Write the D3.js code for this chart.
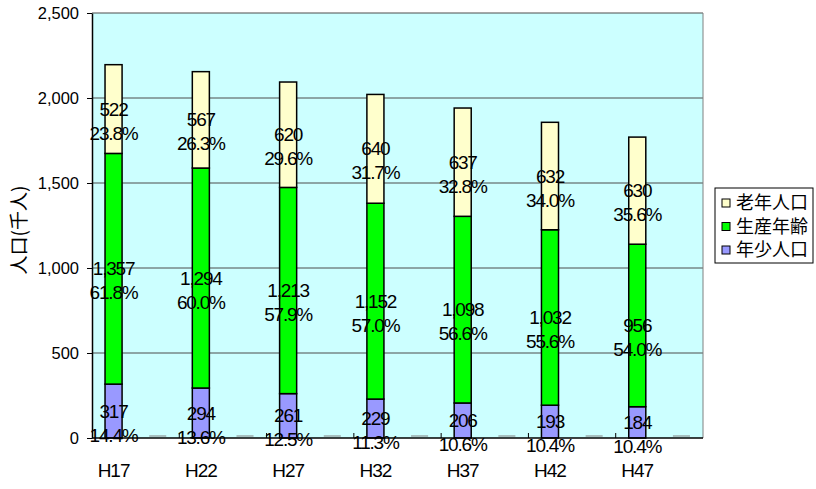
<!DOCTYPE html>
<html>
<head>
<meta charset="utf-8">
<script src="https://cdn.jsdelivr.net/npm/d3@7/dist/d3.min.js"></script>
<style>
  html, body { margin: 0; padding: 0; background: #fff; }
  text { font-family: "Liberation Sans", Arial, sans-serif; fill: #000; }
  .jp { font-family: "Noto Sans CJK JP", "Liberation Sans", sans-serif; }
</style>
</head>
<body>
<svg id="chart" width="816" height="489"></svg>
<script>
// Population by age group (thousands) and share of total
const years = ["H17", "H22", "H27", "H32", "H37", "H42", "H47"];
const young = [317, 294, 261, 229, 206, 193, 184];
const working = [1357, 1294, 1213, 1152, 1098, 1032, 956];
const elderly = [522, 567, 620, 640, 637, 632, 630];
const youngPct = ["14.4%", "13.6%", "12.5%", "11.3%", "10.6%", "10.4%", "10.4%"];
const workingPct = ["61.8%", "60.0%", "57.9%", "57.0%", "56.6%", "55.6%", "54.0%"];
const elderlyPct = ["23.8%", "26.3%", "29.6%", "31.7%", "32.8%", "34.0%", "35.6%"];
const yTicks = [0, 500, 1000, 1500, 2000, 2500];
const seriesNames = ["年少人口", "生産年齢", "老年人口"];
const seriesColors = ["#9999FF", "#00FF00", "#FFFFCC"];
const legendOrder = ["老年人口", "生産年齢", "年少人口"];

const svg = d3.select("#chart");
const plot = { left: 92, right: 703, top: 13, bottom: 438 };

const x = d3.scaleBand().domain(years).range([plot.left, plot.right]).paddingInner(0).paddingOuter(0);
// two slots per year: the filled stack and an empty companion slot
const slot = d3.scaleBand().domain(["stack", "empty"]).range([0, x.bandwidth()])
  .paddingInner(0.614).paddingOuter(0.295);
const y = d3.scaleLinear().domain([0, 2500]).range([plot.bottom, plot.top]);

// plot background
svg.append("rect")
  .attr("x", plot.left).attr("y", plot.top)
  .attr("width", plot.right - plot.left).attr("height", plot.bottom - plot.top)
  .attr("fill", "#CCFFFF");

// gridlines
svg.append("g").selectAll("line").data(yTicks.filter(d => d > 0)).join("line")
  .attr("x1", plot.left).attr("x2", plot.right)
  .attr("y1", d => y(d)).attr("y2", d => y(d))
  .attr("stroke", "#4d4d4d").attr("stroke-width", 1);

// right border of plot
svg.append("line")
  .attr("x1", plot.right).attr("x2", plot.right)
  .attr("y1", plot.top).attr("y2", plot.bottom)
  .attr("stroke", "#808080").attr("stroke-width", 1);

// stacked data
const rows = years.map((yr, i) => ({ year: yr, "年少人口": young[i], "生産年齢": working[i], "老年人口": elderly[i] }));
const stack = d3.stack().keys(seriesNames)(rows);
const pctBySeries = { "年少人口": youngPct, "生産年齢": workingPct, "老年人口": elderlyPct };

const barX = d => x(d.data.year) + slot("stack");
stack.forEach((layer, li) => {
  svg.append("g").selectAll("rect").data(layer).join("rect")
    .attr("x", barX)
    .attr("y", d => y(d[1]))
    .attr("width", slot.bandwidth())
    .attr("height", d => y(d[0]) - y(d[1]))
    .attr("fill", seriesColors[li])
    .attr("stroke", "#000").attr("stroke-width", 1.5);
});

// empty companion slots show as flat dashes
svg.append("g").selectAll("line").data(years).join("line")
  .attr("x1", d => x(d) + slot("empty"))
  .attr("x2", d => x(d) + slot("empty") + slot.bandwidth())
  .attr("y1", y(0) - 2).attr("y2", y(0) - 2)
  .attr("stroke", "#808080").attr("stroke-width", 1);

// value and share labels
const fmt = d3.format(",");
stack.forEach(layer => {
  const key = layer.key;
  const g = svg.append("g").attr("font-size", 19).attr("letter-spacing", -1.2)
    .attr("text-anchor", "middle");
  layer.forEach((d, i) => {
    const cx = barX(d) + slot.bandwidth() / 2;
    const mid = (y(d[0]) + y(d[1])) / 2;
    g.append("text").attr("x", cx).attr("y", mid).attr("dy", "0.35em")
      .text(fmt(d[1] - d[0]));
    g.append("text").attr("x", cx).attr("y", mid + 24).attr("dy", "0.35em")
      .text(pctBySeries[key][i]);
  });
});

// y axis
const yAxis = svg.append("g").attr("transform", `translate(${plot.left},0)`)
  .call(d3.axisLeft(y).tickValues(yTicks).tickFormat(d3.format(",")).tickSize(5).tickSizeOuter(0));
yAxis.select(".domain").attr("stroke", "#000").attr("stroke-width", 1.5);
yAxis.selectAll(".tick line").attr("stroke", "#000");
yAxis.selectAll(".tick text").attr("font-size", 16.5).attr("x", -13)
  .style("font-family", '"Liberation Sans", Arial, sans-serif');

// x axis: baseline with upward ticks on category boundaries
svg.append("line")
  .attr("x1", plot.left).attr("x2", plot.right)
  .attr("y1", plot.bottom).attr("y2", plot.bottom)
  .attr("stroke", "#000").attr("stroke-width", 1.5);
svg.append("g").selectAll("line").data(years.slice(1)).join("line")
  .attr("x1", d => x(d)).attr("x2", d => x(d))
  .attr("y1", plot.bottom).attr("y2", plot.bottom - 5)
  .attr("stroke", "#000");
svg.append("g").selectAll("text").data(years).join("text")
  .attr("x", d => x(d) + slot("stack") + slot.bandwidth() / 2)
  .attr("y", 470).attr("dy", "0.35em")
  .attr("text-anchor", "middle").attr("font-size", 19).attr("letter-spacing", -1)
  .text(d => d);

// y axis title
svg.append("text").attr("class", "jp")
  .attr("transform", "translate(19,230) rotate(-90)")
  .attr("text-anchor", "middle").attr("dy", "0.35em")
  .attr("font-size", 19)
  .text("人口(千人)");

// legend
const legend = svg.append("g").attr("transform", "translate(715,188)");
legend.append("rect").attr("width", 98).attr("height", 75)
  .attr("fill", "#fff").attr("stroke", "#000").attr("stroke-width", 1);
legendOrder.forEach((name, i) => {
  const cy = 15 + i * 23.5;
  legend.append("rect").attr("x", 7).attr("y", cy - 4).attr("width", 8).attr("height", 8)
    .attr("fill", seriesColors[seriesNames.indexOf(name)]).attr("stroke", "#000").attr("stroke-width", 1);
  legend.append("text").attr("class", "jp").attr("x", 21).attr("y", cy).attr("dy", "0.35em")
    .attr("font-size", 18).text(name);
});
</script>
</body>
</html>
